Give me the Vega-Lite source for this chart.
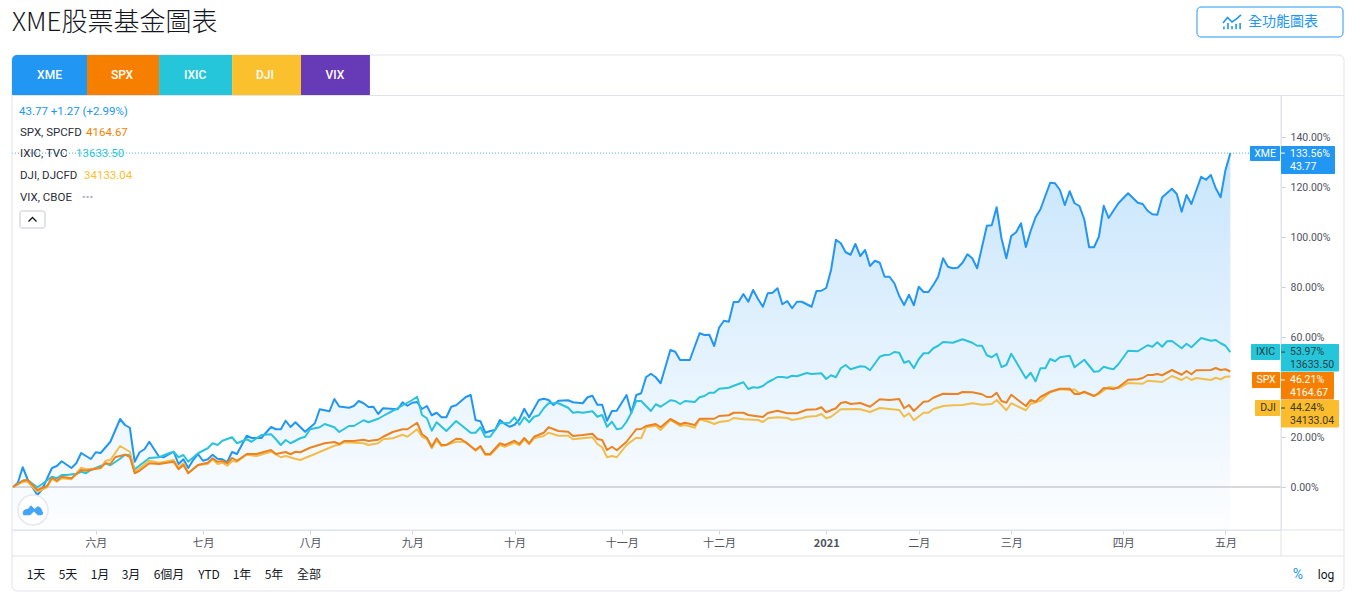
{"$schema":"https://vega.github.io/schema/vega-lite/v6.json","width":1269,"height":434,"autosize":{"type":"none"},"padding":{"left":12,"top":96,"right":77,"bottom":72},"background":"#ffffff",
"title":{"text":"XME股票基金圖表","anchor":"start","frame":"group","fontSize":26,"fontWeight":300,"font":"Noto Sans CJK TC","color":"#131722","offset":-29},
"config":{"view":{"stroke":null},"font":"Roboto"},
"data":{"values":[{}]},
"datasets":{"prices":[
{"series":"XME","day":0,"pct":0},{"series":"XME","day":1,"pct":1.7},{"series":"XME","day":2,"pct":7.9},{"series":"XME","day":3,"pct":3.1},{"series":"XME","day":5,"pct":-3.2},{"series":"XME","day":6,"pct":-0.9},{"series":"XME","day":8,"pct":7.6},{"series":"XME","day":9,"pct":8.4},{"series":"XME","day":10,"pct":10.3},{"series":"XME","day":12,"pct":7.6},{"series":"XME","day":13,"pct":9.5},{"series":"XME","day":14,"pct":13.6},{"series":"XME","day":16,"pct":11.2},{"series":"XME","day":17,"pct":13.9},{"series":"XME","day":18,"pct":13.6},{"series":"XME","day":20,"pct":18.1},{"series":"XME","day":22,"pct":27.2},{"series":"XME","day":23,"pct":24.8},{"series":"XME","day":24,"pct":23.7},{"series":"XME","day":25,"pct":10.1},{"series":"XME","day":26,"pct":13.9},{"series":"XME","day":27,"pct":15.1},{"series":"XME","day":28,"pct":18.1},{"series":"XME","day":30,"pct":12.1},{"series":"XME","day":31,"pct":11.9},{"series":"XME","day":33,"pct":14.1},{"series":"XME","day":34,"pct":9.2},{"series":"XME","day":35,"pct":11.1},{"series":"XME","day":36,"pct":7.6},{"series":"XME","day":37,"pct":10.8},{"series":"XME","day":38,"pct":13.2},{"series":"XME","day":39,"pct":10.5},{"series":"XME","day":40,"pct":11.1},{"series":"XME","day":41,"pct":12.9},{"series":"XME","day":42,"pct":11.3},{"series":"XME","day":43,"pct":11.1},{"series":"XME","day":44,"pct":10},{"series":"XME","day":45,"pct":14},{"series":"XME","day":46,"pct":13.2},{"series":"XME","day":48,"pct":20.5},{"series":"XME","day":49,"pct":19.6},{"series":"XME","day":51,"pct":19.6},{"series":"XME","day":53,"pct":24},{"series":"XME","day":54,"pct":23.1},{"series":"XME","day":55,"pct":23.1},{"series":"XME","day":56,"pct":26.5},{"series":"XME","day":57,"pct":24},{"series":"XME","day":58,"pct":25.9},{"series":"XME","day":60,"pct":22.1},{"series":"XME","day":62,"pct":25.5},{"series":"XME","day":63,"pct":31.1},{"series":"XME","day":65,"pct":30.3},{"series":"XME","day":66,"pct":35.2},{"series":"XME","day":67,"pct":32.2},{"series":"XME","day":69,"pct":31.7},{"series":"XME","day":70,"pct":32.4},{"series":"XME","day":71,"pct":34.4},{"series":"XME","day":72,"pct":33.5},{"series":"XME","day":73,"pct":32},{"series":"XME","day":74,"pct":32.1},{"series":"XME","day":75,"pct":29.2},{"series":"XME","day":76,"pct":31.5},{"series":"XME","day":79,"pct":31.1},{"series":"XME","day":80,"pct":33.9},{"series":"XME","day":81,"pct":32.5},{"series":"XME","day":82,"pct":33.7},{"series":"XME","day":83,"pct":34},{"series":"XME","day":84,"pct":31.2},{"series":"XME","day":85,"pct":32.4},{"series":"XME","day":86,"pct":28.7},{"series":"XME","day":87,"pct":29.7},{"series":"XME","day":88,"pct":27.9},{"series":"XME","day":89,"pct":27.9},{"series":"XME","day":90,"pct":32.1},{"series":"XME","day":91,"pct":32.7},{"series":"XME","day":93,"pct":36},{"series":"XME","day":94,"pct":36.8},{"series":"XME","day":95,"pct":26.8},{"series":"XME","day":96,"pct":26.3},{"series":"XME","day":97,"pct":21.7},{"series":"XME","day":98,"pct":22.4},{"series":"XME","day":99,"pct":22.8},{"series":"XME","day":100,"pct":26.8},{"series":"XME","day":101,"pct":25.2},{"series":"XME","day":102,"pct":24.1},{"series":"XME","day":103,"pct":24.9},{"series":"XME","day":104,"pct":27.1},{"series":"XME","day":105,"pct":31.3},{"series":"XME","day":106,"pct":27.9},{"series":"XME","day":108,"pct":34.8},{"series":"XME","day":109,"pct":35.3},{"series":"XME","day":110,"pct":34.8},{"series":"XME","day":111,"pct":32.8},{"series":"XME","day":112,"pct":34.5},{"series":"XME","day":114,"pct":34.7},{"series":"XME","day":115,"pct":33.9},{"series":"XME","day":117,"pct":33.5},{"series":"XME","day":118,"pct":35.9},{"series":"XME","day":119,"pct":36.5},{"series":"XME","day":120,"pct":32.9},{"series":"XME","day":121,"pct":32.9},{"series":"XME","day":122,"pct":26.5},{"series":"XME","day":123,"pct":30.4},{"series":"XME","day":124,"pct":30.5},{"series":"XME","day":126,"pct":36.8},{"series":"XME","day":127,"pct":29.7},{"series":"XME","day":128,"pct":36.8},{"series":"XME","day":129,"pct":37.5},{"series":"XME","day":130,"pct":43.9},{"series":"XME","day":131,"pct":45.3},{"series":"XME","day":132,"pct":43.9},{"series":"XME","day":133,"pct":41.5},{"series":"XME","day":135,"pct":54.8},{"series":"XME","day":136,"pct":54.1},{"series":"XME","day":137,"pct":50.8},{"series":"XME","day":139,"pct":50.8},{"series":"XME","day":141,"pct":61.5},{"series":"XME","day":142,"pct":60.8},{"series":"XME","day":143,"pct":60.9},{"series":"XME","day":144,"pct":56.4},{"series":"XME","day":145,"pct":63.7},{"series":"XME","day":146,"pct":66.5},{"series":"XME","day":147,"pct":66.1},{"series":"XME","day":148,"pct":74},{"series":"XME","day":149,"pct":74},{"series":"XME","day":150,"pct":77.2},{"series":"XME","day":151,"pct":74.1},{"series":"XME","day":152,"pct":78.8},{"series":"XME","day":153,"pct":75.2},{"series":"XME","day":154,"pct":72.1},{"series":"XME","day":155,"pct":77.5},{"series":"XME","day":156,"pct":77.7},{"series":"XME","day":157,"pct":79.5},{"series":"XME","day":158,"pct":73.1},{"series":"XME","day":159,"pct":74.4},{"series":"XME","day":160,"pct":71.5},{"series":"XME","day":161,"pct":74.1},{"series":"XME","day":162,"pct":74.1},{"series":"XME","day":164,"pct":72.1},{"series":"XME","day":165,"pct":78.4},{"series":"XME","day":166,"pct":78.5},{"series":"XME","day":167,"pct":79.6},{"series":"XME","day":168,"pct":86.8},{"series":"XME","day":169,"pct":98.9},{"series":"XME","day":170,"pct":97.5},{"series":"XME","day":171,"pct":93.9},{"series":"XME","day":172,"pct":92.9},{"series":"XME","day":173,"pct":97.2},{"series":"XME","day":174,"pct":92.4},{"series":"XME","day":175,"pct":94.8},{"series":"XME","day":176,"pct":88.4},{"series":"XME","day":177,"pct":90.5},{"series":"XME","day":178,"pct":89.7},{"series":"XME","day":179,"pct":84.1},{"series":"XME","day":180,"pct":84.1},{"series":"XME","day":181,"pct":81.5},{"series":"XME","day":182,"pct":76.4},{"series":"XME","day":183,"pct":72.8},{"series":"XME","day":184,"pct":76.9},{"series":"XME","day":185,"pct":72.7},{"series":"XME","day":186,"pct":80.1},{"series":"XME","day":187,"pct":78},{"series":"XME","day":188,"pct":78},{"series":"XME","day":189,"pct":80.8},{"series":"XME","day":190,"pct":84.1},{"series":"XME","day":191,"pct":91.5},{"series":"XME","day":192,"pct":88.1},{"series":"XME","day":193,"pct":87.5},{"series":"XME","day":194,"pct":87.7},{"series":"XME","day":195,"pct":89.7},{"series":"XME","day":196,"pct":93.1},{"series":"XME","day":197,"pct":91.5},{"series":"XME","day":198,"pct":87.5},{"series":"XME","day":200,"pct":104.5},{"series":"XME","day":201,"pct":104.7},{"series":"XME","day":202,"pct":111.9},{"series":"XME","day":203,"pct":99.5},{"series":"XME","day":204,"pct":91.5},{"series":"XME","day":205,"pct":100.4},{"series":"XME","day":206,"pct":101.9},{"series":"XME","day":207,"pct":105.5},{"series":"XME","day":208,"pct":96},{"series":"XME","day":209,"pct":102.5},{"series":"XME","day":210,"pct":107.9},{"series":"XME","day":211,"pct":111.1},{"series":"XME","day":213,"pct":121.7},{"series":"XME","day":214,"pct":121.5},{"series":"XME","day":215,"pct":118.8},{"series":"XME","day":216,"pct":112.8},{"series":"XME","day":217,"pct":118.3},{"series":"XME","day":218,"pct":113.5},{"series":"XME","day":219,"pct":112.4},{"series":"XME","day":220,"pct":107.1},{"series":"XME","day":221,"pct":95.9},{"series":"XME","day":222,"pct":95.9},{"series":"XME","day":223,"pct":100.1},{"series":"XME","day":224,"pct":112.5},{"series":"XME","day":225,"pct":107.6},{"series":"XME","day":227,"pct":113.5},{"series":"XME","day":229,"pct":117.5},{"series":"XME","day":231,"pct":113.7},{"series":"XME","day":232,"pct":113.2},{"series":"XME","day":233,"pct":110.5},{"series":"XME","day":234,"pct":109.1},{"series":"XME","day":235,"pct":108.9},{"series":"XME","day":236,"pct":115.9},{"series":"XME","day":238,"pct":119.3},{"series":"XME","day":239,"pct":117.2},{"series":"XME","day":240,"pct":110.1},{"series":"XME","day":241,"pct":116.8},{"series":"XME","day":242,"pct":113.2},{"series":"XME","day":244,"pct":124.1},{"series":"XME","day":245,"pct":122.9},{"series":"XME","day":246,"pct":124.8},{"series":"XME","day":247,"pct":119.5},{"series":"XME","day":248,"pct":115.9},{"series":"XME","day":249,"pct":126.8},{"series":"XME","day":250,"pct":133.56},
{"series":"IXIC","day":0,"pct":0},{"series":"IXIC","day":2,"pct":2.5},{"series":"IXIC","day":3,"pct":2.8},{"series":"IXIC","day":5,"pct":-0.1},{"series":"IXIC","day":6,"pct":1.2},{"series":"IXIC","day":8,"pct":4.1},{"series":"IXIC","day":9,"pct":3.5},{"series":"IXIC","day":10,"pct":4.8},{"series":"IXIC","day":11,"pct":4.8},{"series":"IXIC","day":13,"pct":5.3},{"series":"IXIC","day":14,"pct":6.1},{"series":"IXIC","day":15,"pct":5.5},{"series":"IXIC","day":16,"pct":6.8},{"series":"IXIC","day":18,"pct":8.4},{"series":"IXIC","day":19,"pct":9.5},{"series":"IXIC","day":20,"pct":8.7},{"series":"IXIC","day":22,"pct":11.3},{"series":"IXIC","day":23,"pct":12.9},{"series":"IXIC","day":24,"pct":12.7},{"series":"IXIC","day":25,"pct":7.1},{"series":"IXIC","day":28,"pct":11.6},{"series":"IXIC","day":30,"pct":11.9},{"series":"IXIC","day":32,"pct":13.5},{"series":"IXIC","day":33,"pct":14.1},{"series":"IXIC","day":34,"pct":11.9},{"series":"IXIC","day":35,"pct":12.8},{"series":"IXIC","day":36,"pct":10.1},{"series":"IXIC","day":38,"pct":13.5},{"series":"IXIC","day":40,"pct":15.5},{"series":"IXIC","day":41,"pct":17.5},{"series":"IXIC","day":42,"pct":16.8},{"series":"IXIC","day":43,"pct":18.5},{"series":"IXIC","day":45,"pct":19.9},{"series":"IXIC","day":46,"pct":17.5},{"series":"IXIC","day":48,"pct":19.1},{"series":"IXIC","day":49,"pct":18.1},{"series":"IXIC","day":51,"pct":20.8},{"series":"IXIC","day":53,"pct":21.1},{"series":"IXIC","day":54,"pct":19.1},{"series":"IXIC","day":55,"pct":16.8},{"series":"IXIC","day":56,"pct":18.8},{"series":"IXIC","day":57,"pct":17.5},{"series":"IXIC","day":59,"pct":19.5},{"series":"IXIC","day":60,"pct":20.1},{"series":"IXIC","day":61,"pct":23.1},{"series":"IXIC","day":63,"pct":23.9},{"series":"IXIC","day":64,"pct":25.2},{"series":"IXIC","day":66,"pct":23.9},{"series":"IXIC","day":67,"pct":22},{"series":"IXIC","day":69,"pct":24.4},{"series":"IXIC","day":70,"pct":24.4},{"series":"IXIC","day":72,"pct":26.7},{"series":"IXIC","day":73,"pct":25.9},{"series":"IXIC","day":75,"pct":27.3},{"series":"IXIC","day":76,"pct":28.4},{"series":"IXIC","day":78,"pct":30.5},{"series":"IXIC","day":79,"pct":31.5},{"series":"IXIC","day":82,"pct":34.8},{"series":"IXIC","day":83,"pct":36.1},{"series":"IXIC","day":84,"pct":28.8},{"series":"IXIC","day":85,"pct":27.5},{"series":"IXIC","day":86,"pct":22.5},{"series":"IXIC","day":87,"pct":25.9},{"series":"IXIC","day":89,"pct":22.4},{"series":"IXIC","day":91,"pct":26.4},{"series":"IXIC","day":94,"pct":21.7},{"series":"IXIC","day":95,"pct":21.7},{"series":"IXIC","day":96,"pct":23.9},{"series":"IXIC","day":97,"pct":20.1},{"series":"IXIC","day":98,"pct":20.1},{"series":"IXIC","day":100,"pct":25.5},{"series":"IXIC","day":102,"pct":25.7},{"series":"IXIC","day":103,"pct":27.9},{"series":"IXIC","day":104,"pct":24.9},{"series":"IXIC","day":105,"pct":27.9},{"series":"IXIC","day":106,"pct":25.9},{"series":"IXIC","day":107,"pct":28.1},{"series":"IXIC","day":108,"pct":28.7},{"series":"IXIC","day":109,"pct":31.5},{"series":"IXIC","day":110,"pct":33.5},{"series":"IXIC","day":112,"pct":33.5},{"series":"IXIC","day":114,"pct":31.7},{"series":"IXIC","day":115,"pct":29.7},{"series":"IXIC","day":116,"pct":30},{"series":"IXIC","day":117,"pct":29.7},{"series":"IXIC","day":119,"pct":30.3},{"series":"IXIC","day":120,"pct":28.1},{"series":"IXIC","day":121,"pct":28.8},{"series":"IXIC","day":122,"pct":24.1},{"series":"IXIC","day":123,"pct":26.1},{"series":"IXIC","day":124,"pct":23.1},{"series":"IXIC","day":125,"pct":23.5},{"series":"IXIC","day":126,"pct":26.1},{"series":"IXIC","day":127,"pct":29.7},{"series":"IXIC","day":128,"pct":34.4},{"series":"IXIC","day":129,"pct":34.4},{"series":"IXIC","day":131,"pct":30.4},{"series":"IXIC","day":132,"pct":33.1},{"series":"IXIC","day":133,"pct":32.1},{"series":"IXIC","day":135,"pct":34.7},{"series":"IXIC","day":136,"pct":34.4},{"series":"IXIC","day":137,"pct":33.2},{"series":"IXIC","day":138,"pct":34.4},{"series":"IXIC","day":140,"pct":34},{"series":"IXIC","day":141,"pct":35.9},{"series":"IXIC","day":142,"pct":36.4},{"series":"IXIC","day":143,"pct":37.7},{"series":"IXIC","day":144,"pct":37.7},{"series":"IXIC","day":145,"pct":39.3},{"series":"IXIC","day":147,"pct":39.7},{"series":"IXIC","day":148,"pct":40.5},{"series":"IXIC","day":150,"pct":41.9},{"series":"IXIC","day":151,"pct":39.2},{"series":"IXIC","day":152,"pct":39.9},{"series":"IXIC","day":153,"pct":39.7},{"series":"IXIC","day":154,"pct":40.4},{"series":"IXIC","day":155,"pct":41.9},{"series":"IXIC","day":156,"pct":42.9},{"series":"IXIC","day":157,"pct":44},{"series":"IXIC","day":158,"pct":44},{"series":"IXIC","day":159,"pct":43.7},{"series":"IXIC","day":160,"pct":44.5},{"series":"IXIC","day":161,"pct":44.3},{"series":"IXIC","day":163,"pct":45.6},{"series":"IXIC","day":164,"pct":45.2},{"series":"IXIC","day":166,"pct":45.5},{"series":"IXIC","day":167,"pct":43.2},{"series":"IXIC","day":168,"pct":44.7},{"series":"IXIC","day":169,"pct":43.9},{"series":"IXIC","day":170,"pct":47.5},{"series":"IXIC","day":171,"pct":48.8},{"series":"IXIC","day":172,"pct":47.1},{"series":"IXIC","day":174,"pct":48.3},{"series":"IXIC","day":175,"pct":48.1},{"series":"IXIC","day":176,"pct":46.7},{"series":"IXIC","day":178,"pct":52.1},{"series":"IXIC","day":179,"pct":52.8},{"series":"IXIC","day":180,"pct":52.9},{"series":"IXIC","day":181,"pct":54},{"series":"IXIC","day":182,"pct":53.7},{"series":"IXIC","day":183,"pct":49.7},{"series":"IXIC","day":184,"pct":50.4},{"series":"IXIC","day":185,"pct":47.5},{"series":"IXIC","day":186,"pct":51.1},{"series":"IXIC","day":187,"pct":53.5},{"series":"IXIC","day":188,"pct":53.5},{"series":"IXIC","day":189,"pct":55.5},{"series":"IXIC","day":190,"pct":56.5},{"series":"IXIC","day":191,"pct":58},{"series":"IXIC","day":193,"pct":57.7},{"series":"IXIC","day":195,"pct":59.1},{"series":"IXIC","day":197,"pct":57.7},{"series":"IXIC","day":198,"pct":56.5},{"series":"IXIC","day":199,"pct":56.5},{"series":"IXIC","day":200,"pct":52.7},{"series":"IXIC","day":201,"pct":51.9},{"series":"IXIC","day":202,"pct":53.3},{"series":"IXIC","day":203,"pct":48},{"series":"IXIC","day":204,"pct":48.8},{"series":"IXIC","day":205,"pct":53.3},{"series":"IXIC","day":206,"pct":50.1},{"series":"IXIC","day":208,"pct":43.5},{"series":"IXIC","day":209,"pct":45.7},{"series":"IXIC","day":210,"pct":42.3},{"series":"IXIC","day":211,"pct":47.5},{"series":"IXIC","day":212,"pct":47.5},{"series":"IXIC","day":213,"pct":51.2},{"series":"IXIC","day":214,"pct":50.3},{"series":"IXIC","day":215,"pct":51.9},{"series":"IXIC","day":217,"pct":52.5},{"series":"IXIC","day":218,"pct":47.9},{"series":"IXIC","day":220,"pct":50.9},{"series":"IXIC","day":222,"pct":46.1},{"series":"IXIC","day":223,"pct":46.3},{"series":"IXIC","day":224,"pct":48.1},{"series":"IXIC","day":225,"pct":47.5},{"series":"IXIC","day":226,"pct":47.1},{"series":"IXIC","day":227,"pct":49.1},{"series":"IXIC","day":229,"pct":54.5},{"series":"IXIC","day":231,"pct":54.3},{"series":"IXIC","day":232,"pct":55.5},{"series":"IXIC","day":233,"pct":56.7},{"series":"IXIC","day":234,"pct":56.1},{"series":"IXIC","day":235,"pct":57.9},{"series":"IXIC","day":236,"pct":56.1},{"series":"IXIC","day":237,"pct":58.3},{"series":"IXIC","day":238,"pct":58.4},{"series":"IXIC","day":240,"pct":55.5},{"series":"IXIC","day":241,"pct":57.3},{"series":"IXIC","day":242,"pct":55.9},{"series":"IXIC","day":244,"pct":59.6},{"series":"IXIC","day":246,"pct":58.5},{"series":"IXIC","day":247,"pct":58.8},{"series":"IXIC","day":248,"pct":57.5},{"series":"IXIC","day":249,"pct":56.5},{"series":"IXIC","day":250,"pct":53.97},
{"series":"DJI","day":0,"pct":0},{"series":"DJI","day":2,"pct":2.1},{"series":"DJI","day":3,"pct":2.1},{"series":"DJI","day":5,"pct":-1.9},{"series":"DJI","day":7,"pct":-0.1},{"series":"DJI","day":8,"pct":3.3},{"series":"DJI","day":9,"pct":2.1},{"series":"DJI","day":10,"pct":3.5},{"series":"DJI","day":12,"pct":3.1},{"series":"DJI","day":14,"pct":7.7},{"series":"DJI","day":15,"pct":7.1},{"series":"DJI","day":18,"pct":7.5},{"series":"DJI","day":19,"pct":10.5},{"series":"DJI","day":20,"pct":10.8},{"series":"DJI","day":22,"pct":16.4},{"series":"DJI","day":24,"pct":14.1},{"series":"DJI","day":25,"pct":6.1},{"series":"DJI","day":26,"pct":7.5},{"series":"DJI","day":28,"pct":10.5},{"series":"DJI","day":30,"pct":9.7},{"series":"DJI","day":33,"pct":10.8},{"series":"DJI","day":34,"pct":7.9},{"series":"DJI","day":35,"pct":9.5},{"series":"DJI","day":36,"pct":5.7},{"series":"DJI","day":38,"pct":8.8},{"series":"DJI","day":40,"pct":9.2},{"series":"DJI","day":41,"pct":11.1},{"series":"DJI","day":42,"pct":9.2},{"series":"DJI","day":43,"pct":9.7},{"series":"DJI","day":44,"pct":8.5},{"series":"DJI","day":45,"pct":10.4},{"series":"DJI","day":46,"pct":10.1},{"series":"DJI","day":48,"pct":12.9},{"series":"DJI","day":50,"pct":12.4},{"series":"DJI","day":53,"pct":14.1},{"series":"DJI","day":55,"pct":11.9},{"series":"DJI","day":56,"pct":12.4},{"series":"DJI","day":58,"pct":11.3},{"series":"DJI","day":59,"pct":10.8},{"series":"DJI","day":62,"pct":13.2},{"series":"DJI","day":66,"pct":16.5},{"series":"DJI","day":67,"pct":16.9},{"series":"DJI","day":68,"pct":17.9},{"series":"DJI","day":70,"pct":17.7},{"series":"DJI","day":72,"pct":17.5},{"series":"DJI","day":73,"pct":16.8},{"series":"DJI","day":75,"pct":17.5},{"series":"DJI","day":76,"pct":19.1},{"series":"DJI","day":78,"pct":19.5},{"series":"DJI","day":80,"pct":20.9},{"series":"DJI","day":81,"pct":20.1},{"series":"DJI","day":83,"pct":23.1},{"series":"DJI","day":84,"pct":20.1},{"series":"DJI","day":85,"pct":19.2},{"series":"DJI","day":86,"pct":15.5},{"series":"DJI","day":87,"pct":18.8},{"series":"DJI","day":88,"pct":16.4},{"series":"DJI","day":89,"pct":16.8},{"series":"DJI","day":91,"pct":18.1},{"series":"DJI","day":93,"pct":18.1},{"series":"DJI","day":95,"pct":14.5},{"series":"DJI","day":96,"pct":16.1},{"series":"DJI","day":97,"pct":12.8},{"series":"DJI","day":98,"pct":12.8},{"series":"DJI","day":100,"pct":16.8},{"series":"DJI","day":101,"pct":16.1},{"series":"DJI","day":103,"pct":17.7},{"series":"DJI","day":104,"pct":16.7},{"series":"DJI","day":105,"pct":19.1},{"series":"DJI","day":106,"pct":17.1},{"series":"DJI","day":107,"pct":19.5},{"series":"DJI","day":109,"pct":20.4},{"series":"DJI","day":110,"pct":21.7},{"series":"DJI","day":112,"pct":20.5},{"series":"DJI","day":114,"pct":20.5},{"series":"DJI","day":115,"pct":19.1},{"series":"DJI","day":117,"pct":19.5},{"series":"DJI","day":119,"pct":19.9},{"series":"DJI","day":120,"pct":17.2},{"series":"DJI","day":121,"pct":15.9},{"series":"DJI","day":122,"pct":11.9},{"series":"DJI","day":123,"pct":12.4},{"series":"DJI","day":124,"pct":11.9},{"series":"DJI","day":126,"pct":16.8},{"series":"DJI","day":128,"pct":19.7},{"series":"DJI","day":129,"pct":19.5},{"series":"DJI","day":130,"pct":23.9},{"series":"DJI","day":132,"pct":24.5},{"series":"DJI","day":133,"pct":22.8},{"series":"DJI","day":135,"pct":26.8},{"series":"DJI","day":137,"pct":24.4},{"series":"DJI","day":138,"pct":24.8},{"series":"DJI","day":140,"pct":23.7},{"series":"DJI","day":141,"pct":27.1},{"series":"DJI","day":143,"pct":26},{"series":"DJI","day":144,"pct":25.2},{"series":"DJI","day":145,"pct":26},{"series":"DJI","day":147,"pct":26.5},{"series":"DJI","day":148,"pct":27.6},{"series":"DJI","day":150,"pct":27.1},{"series":"DJI","day":153,"pct":26.8},{"series":"DJI","day":154,"pct":26},{"series":"DJI","day":155,"pct":27.5},{"series":"DJI","day":157,"pct":27.9},{"series":"DJI","day":159,"pct":27.6},{"series":"DJI","day":160,"pct":26.8},{"series":"DJI","day":162,"pct":27.5},{"series":"DJI","day":163,"pct":28.1},{"series":"DJI","day":165,"pct":28.4},{"series":"DJI","day":166,"pct":29.2},{"series":"DJI","day":167,"pct":27.5},{"series":"DJI","day":168,"pct":28.1},{"series":"DJI","day":170,"pct":31.1},{"series":"DJI","day":173,"pct":31.2},{"series":"DJI","day":174,"pct":31.1},{"series":"DJI","day":176,"pct":30},{"series":"DJI","day":178,"pct":31.6},{"series":"DJI","day":182,"pct":30.8},{"series":"DJI","day":183,"pct":28.1},{"series":"DJI","day":184,"pct":29.5},{"series":"DJI","day":185,"pct":26.7},{"series":"DJI","day":187,"pct":29.7},{"series":"DJI","day":188,"pct":29.7},{"series":"DJI","day":189,"pct":31.2},{"series":"DJI","day":191,"pct":32.4},{"series":"DJI","day":193,"pct":32.7},{"series":"DJI","day":195,"pct":32.8},{"series":"DJI","day":197,"pct":33.5},{"series":"DJI","day":199,"pct":32.9},{"series":"DJI","day":201,"pct":33.2},{"series":"DJI","day":202,"pct":34.8},{"series":"DJI","day":204,"pct":30.7},{"series":"DJI","day":205,"pct":33.5},{"series":"DJI","day":208,"pct":30.7},{"series":"DJI","day":209,"pct":33.2},{"series":"DJI","day":211,"pct":34.5},{"series":"DJI","day":213,"pct":37.9},{"series":"DJI","day":215,"pct":39.1},{"series":"DJI","day":217,"pct":38.8},{"series":"DJI","day":218,"pct":39},{"series":"DJI","day":219,"pct":37.5},{"series":"DJI","day":220,"pct":37.9},{"series":"DJI","day":222,"pct":36.4},{"series":"DJI","day":223,"pct":37.2},{"series":"DJI","day":225,"pct":40},{"series":"DJI","day":227,"pct":39.5},{"series":"DJI","day":229,"pct":41.6},{"series":"DJI","day":232,"pct":41.3},{"series":"DJI","day":233,"pct":42.5},{"series":"DJI","day":236,"pct":42},{"series":"DJI","day":238,"pct":44.4},{"series":"DJI","day":240,"pct":42.8},{"series":"DJI","day":241,"pct":44},{"series":"DJI","day":242,"pct":42.8},{"series":"DJI","day":243,"pct":43.6},{"series":"DJI","day":246,"pct":42.8},{"series":"DJI","day":247,"pct":43.7},{"series":"DJI","day":248,"pct":43.1},{"series":"DJI","day":249,"pct":44.1},{"series":"DJI","day":250,"pct":44.24},
{"series":"SPX","day":0,"pct":0},{"series":"SPX","day":2,"pct":2.5},{"series":"SPX","day":3,"pct":2.8},{"series":"SPX","day":5,"pct":-1.2},{"series":"SPX","day":7,"pct":0.4},{"series":"SPX","day":8,"pct":3.7},{"series":"SPX","day":9,"pct":2.5},{"series":"SPX","day":10,"pct":4.1},{"series":"SPX","day":12,"pct":3.5},{"series":"SPX","day":14,"pct":6.8},{"series":"SPX","day":15,"pct":6.5},{"series":"SPX","day":18,"pct":7.7},{"series":"SPX","day":19,"pct":9.5},{"series":"SPX","day":20,"pct":9.2},{"series":"SPX","day":21,"pct":11.9},{"series":"SPX","day":23,"pct":12.9},{"series":"SPX","day":24,"pct":12.1},{"series":"SPX","day":25,"pct":5.5},{"series":"SPX","day":26,"pct":6.5},{"series":"SPX","day":28,"pct":9.5},{"series":"SPX","day":30,"pct":9.2},{"series":"SPX","day":33,"pct":10.1},{"series":"SPX","day":34,"pct":7.1},{"series":"SPX","day":35,"pct":8.8},{"series":"SPX","day":36,"pct":5.5},{"series":"SPX","day":38,"pct":8.8},{"series":"SPX","day":40,"pct":9.7},{"series":"SPX","day":41,"pct":11.5},{"series":"SPX","day":42,"pct":10.1},{"series":"SPX","day":43,"pct":10.4},{"series":"SPX","day":44,"pct":9.5},{"series":"SPX","day":45,"pct":11.6},{"series":"SPX","day":46,"pct":10.5},{"series":"SPX","day":48,"pct":13.2},{"series":"SPX","day":50,"pct":13.2},{"series":"SPX","day":53,"pct":14.8},{"series":"SPX","day":54,"pct":13.2},{"series":"SPX","day":56,"pct":14},{"series":"SPX","day":57,"pct":13.1},{"series":"SPX","day":58,"pct":14.1},{"series":"SPX","day":59,"pct":13.9},{"series":"SPX","day":61,"pct":15.7},{"series":"SPX","day":64,"pct":17.5},{"series":"SPX","day":66,"pct":18},{"series":"SPX","day":67,"pct":17.2},{"series":"SPX","day":68,"pct":18.4},{"series":"SPX","day":70,"pct":18.4},{"series":"SPX","day":72,"pct":18.9},{"series":"SPX","day":73,"pct":18.4},{"series":"SPX","day":75,"pct":18.9},{"series":"SPX","day":76,"pct":20.1},{"series":"SPX","day":78,"pct":22},{"series":"SPX","day":80,"pct":23.1},{"series":"SPX","day":81,"pct":23.1},{"series":"SPX","day":83,"pct":25.7},{"series":"SPX","day":84,"pct":21.1},{"series":"SPX","day":85,"pct":19.7},{"series":"SPX","day":86,"pct":16.1},{"series":"SPX","day":87,"pct":19.5},{"series":"SPX","day":88,"pct":16.8},{"series":"SPX","day":89,"pct":16.8},{"series":"SPX","day":91,"pct":19.3},{"series":"SPX","day":92,"pct":19.2},{"series":"SPX","day":95,"pct":14.8},{"series":"SPX","day":96,"pct":16.4},{"series":"SPX","day":97,"pct":13.2},{"series":"SPX","day":98,"pct":13.2},{"series":"SPX","day":100,"pct":17.5},{"series":"SPX","day":101,"pct":16.8},{"series":"SPX","day":103,"pct":18.5},{"series":"SPX","day":104,"pct":17.2},{"series":"SPX","day":105,"pct":19.6},{"series":"SPX","day":106,"pct":17.5},{"series":"SPX","day":107,"pct":20.1},{"series":"SPX","day":109,"pct":21.7},{"series":"SPX","day":110,"pct":23.9},{"series":"SPX","day":112,"pct":22.4},{"series":"SPX","day":114,"pct":22.1},{"series":"SPX","day":115,"pct":20.4},{"series":"SPX","day":117,"pct":20.8},{"series":"SPX","day":119,"pct":21.3},{"series":"SPX","day":120,"pct":19.2},{"series":"SPX","day":121,"pct":18.8},{"series":"SPX","day":122,"pct":14.8},{"series":"SPX","day":123,"pct":16.1},{"series":"SPX","day":124,"pct":14.7},{"series":"SPX","day":126,"pct":18.1},{"series":"SPX","day":128,"pct":23.1},{"series":"SPX","day":129,"pct":23.2},{"series":"SPX","day":130,"pct":24.4},{"series":"SPX","day":132,"pct":25.2},{"series":"SPX","day":133,"pct":23.9},{"series":"SPX","day":135,"pct":27.2},{"series":"SPX","day":137,"pct":25.1},{"series":"SPX","day":138,"pct":25.7},{"series":"SPX","day":140,"pct":24.8},{"series":"SPX","day":141,"pct":27.3},{"series":"SPX","day":144,"pct":27.3},{"series":"SPX","day":145,"pct":28.4},{"series":"SPX","day":147,"pct":28.7},{"series":"SPX","day":148,"pct":29.7},{"series":"SPX","day":150,"pct":29.7},{"series":"SPX","day":151,"pct":28.8},{"series":"SPX","day":154,"pct":28},{"series":"SPX","day":155,"pct":29.6},{"series":"SPX","day":157,"pct":30.5},{"series":"SPX","day":159,"pct":29.5},{"series":"SPX","day":161,"pct":29.5},{"series":"SPX","day":163,"pct":30.9},{"series":"SPX","day":165,"pct":31.1},{"series":"SPX","day":166,"pct":31.9},{"series":"SPX","day":167,"pct":29.9},{"series":"SPX","day":169,"pct":31.5},{"series":"SPX","day":170,"pct":33.6},{"series":"SPX","day":171,"pct":34},{"series":"SPX","day":172,"pct":33.2},{"series":"SPX","day":174,"pct":33.6},{"series":"SPX","day":176,"pct":32.1},{"series":"SPX","day":178,"pct":35.1},{"series":"SPX","day":180,"pct":34.8},{"series":"SPX","day":182,"pct":35.2},{"series":"SPX","day":183,"pct":31.5},{"series":"SPX","day":184,"pct":32.8},{"series":"SPX","day":185,"pct":30.4},{"series":"SPX","day":187,"pct":34.1},{"series":"SPX","day":188,"pct":34.3},{"series":"SPX","day":189,"pct":35.7},{"series":"SPX","day":191,"pct":37.3},{"series":"SPX","day":194,"pct":37.2},{"series":"SPX","day":195,"pct":38},{"series":"SPX","day":197,"pct":37.9},{"series":"SPX","day":199,"pct":37.1},{"series":"SPX","day":200,"pct":36},{"series":"SPX","day":201,"pct":36.1},{"series":"SPX","day":202,"pct":37.7},{"series":"SPX","day":203,"pct":34.4},{"series":"SPX","day":204,"pct":33.7},{"series":"SPX","day":205,"pct":36.9},{"series":"SPX","day":208,"pct":32.4},{"series":"SPX","day":209,"pct":34.8},{"series":"SPX","day":210,"pct":34.1},{"series":"SPX","day":211,"pct":36},{"series":"SPX","day":213,"pct":38.1},{"series":"SPX","day":215,"pct":39.3},{"series":"SPX","day":217,"pct":39.3},{"series":"SPX","day":218,"pct":37.2},{"series":"SPX","day":219,"pct":37.2},{"series":"SPX","day":220,"pct":38.1},{"series":"SPX","day":222,"pct":36.4},{"series":"SPX","day":223,"pct":37.7},{"series":"SPX","day":224,"pct":39.6},{"series":"SPX","day":226,"pct":39.2},{"series":"SPX","day":227,"pct":39.9},{"series":"SPX","day":229,"pct":42.9},{"series":"SPX","day":231,"pct":43.1},{"series":"SPX","day":232,"pct":43.6},{"series":"SPX","day":233,"pct":44.8},{"series":"SPX","day":234,"pct":44.8},{"series":"SPX","day":235,"pct":45.2},{"series":"SPX","day":236,"pct":44.7},{"series":"SPX","day":238,"pct":46.8},{"series":"SPX","day":240,"pct":44.9},{"series":"SPX","day":241,"pct":46.4},{"series":"SPX","day":242,"pct":45.1},{"series":"SPX","day":243,"pct":46.7},{"series":"SPX","day":246,"pct":46.8},{"series":"SPX","day":247,"pct":47.6},{"series":"SPX","day":248,"pct":46.8},{"series":"SPX","day":249,"pct":47.1},{"series":"SPX","day":250,"pct":46.21}
]},
"layer":[
{"data":{"name":"prices"},"transform":[{"filter":"datum.series==='XME'"}],"mark":{"type":"area","color":{"x1":0,"y1":0,"x2":0,"y2":1,"gradient":"linear","stops":[{"offset":0,"color":"#c8e5fc"},{"offset":1,"color":"#fdfeff"}]}},
"encoding":{"x":{"field":"day","type":"quantitative","title":null,"scale":{"domain":[-0.2,260.4],"nice":false,"zero":false},"axis":{"values":[17,39,61,82,103,125,145,167,186,205,228,249],"labelExpr":"{17:'六月',39:'七月',61:'八月',82:'九月',103:'十月',125:'十一月',145:'十二月',167:'2021',186:'二月',205:'三月',228:'四月',249:'五月'}[datum.value]","labelFont":"Noto Sans CJK TC","labelFontSize":11,"labelColor":"#50535e","labelFontWeight":{"expr":"datum.value==167?'bold':'normal'"},"labelPadding":3,"tickSize":4,"tickColor":"#d1d4dc","domainColor":"#e0e3eb","grid":false,"labelOverlap":false,"labelFlush":false}},
"y":{"field":"pct","type":"quantitative","title":null,"scale":{"domain":[-17.2,156.4],"nice":false,"zero":false},"axis":{"orient":"right","values":[0,20,40,60,80,100,120,140],"labelExpr":"format(datum.value,'.2f')+'%'","labelFontSize":10.5,"labelColor":"#50535e","labelPadding":5,"tickSize":4,"tickColor":"#c8cbd3","domainColor":"#e0e3eb","grid":false,"labelOverlap":false,"labelFlush":false}},
"y2":{"datum":-17.2}}},
{"mark":{"type":"rule","color":"#b2b5be","strokeWidth":1},"encoding":{"y":{"datum":0}}},
{"mark":{"type":"rule","color":"#2196f3","strokeWidth":1,"strokeDash":[1,2],"opacity":0.8},"encoding":{"y":{"datum":133.56},"x":{"datum":-0.2},"x2":{"datum":254}}},
{"data":{"name":"prices"},"mark":{"type":"line","strokeWidth":2,"strokeJoin":"round"},"encoding":{"x":{"field":"day","type":"quantitative"},"y":{"field":"pct","type":"quantitative"},"color":{"field":"series","type":"nominal","legend":null,"scale":{"domain":["XME","IXIC","DJI","SPX"],"range":["#2196f3","#2bc2dc","#f2bd4a","#ec8320"]},"sort":["XME","IXIC","DJI","SPX"]},"detail":{"field":"series"}}},
{"mark":{"type":"rect","fill":"transparent","stroke":"#e0e3eb","cornerRadius":5},"encoding":{"x":{"datum":-0.2},"x2":{"datum":273.34},"y":{"datum":172.8},"y2":{"datum":-41.6}}},
{"mark":{"type":"rule","color":"#e0e3eb"},"encoding":{"x":{"datum":-0.2},"x2":{"datum":273.34},"y":{"datum":156.6}}},
{"mark":{"type":"rule","color":"#e0e3eb"},"encoding":{"x":{"datum":-0.2},"x2":{"datum":273.34},"y":{"datum":-17.2}}},
{"mark":{"type":"rule","color":"#e0e3eb"},"encoding":{"x":{"datum":-0.2},"x2":{"datum":273.34},"y":{"datum":-27.6}}},
{"mark":{"type":"rule","color":"#e0e3eb"},"encoding":{"x":{"datum":260.4},"y":{"datum":156.6},"y2":{"datum":-27.6}}},
{"mark":{"type":"rect","color":"#2196f3","cornerRadiusTopLeft":5},"encoding":{"x":{"datum":-0.2},"x2":{"datum":15.2},"y":{"datum":172.8},"y2":{"datum":156.8}}},
{"mark":{"type":"rect","color":"#f77f00"},"encoding":{"x":{"datum":15.2},"x2":{"datum":30},"y":{"datum":172.8},"y2":{"datum":156.8}}},
{"mark":{"type":"rect","color":"#26c6da"},"encoding":{"x":{"datum":30},"x2":{"datum":45},"y":{"datum":172.8},"y2":{"datum":156.8}}},
{"mark":{"type":"rect","color":"#fbc02d"},"encoding":{"x":{"datum":45},"x2":{"datum":59.15},"y":{"datum":172.8},"y2":{"datum":156.8}}},
{"mark":{"type":"rect","color":"#673ab7"},"encoding":{"x":{"datum":59.15},"x2":{"datum":73.3},"y":{"datum":172.8},"y2":{"datum":156.8}}},
{"mark":{"type":"text","text":"XME","color":"#ffffff","fontSize":12,"fontWeight":500},"encoding":{"x":{"datum":7.5},"y":{"datum":164.8}}},
{"mark":{"type":"text","text":"SPX","color":"#ffffff","fontSize":12,"fontWeight":500},"encoding":{"x":{"datum":22.4},"y":{"datum":164.8}}},
{"mark":{"type":"text","text":"IXIC","color":"#ffffff","fontSize":12,"fontWeight":500},"encoding":{"x":{"datum":37.4},"y":{"datum":164.8}}},
{"mark":{"type":"text","text":"DJI","color":"#ffffff","fontSize":12,"fontWeight":500},"encoding":{"x":{"datum":51.75},"y":{"datum":164.8}}},
{"mark":{"type":"text","text":"VIX","color":"#ffffff","fontSize":12,"fontWeight":500},"encoding":{"x":{"datum":66.1},"y":{"datum":164.8}}},
{"mark":{"type":"text","text":"43.77  +1.27 (+2.99%)","align":"left","color":"#2196f3","fontSize":11.5},"encoding":{"x":{"datum":1.24},"y":{"datum":150}}},
{"mark":{"type":"text","text":"SPX, SPCFD","align":"left","color":"#2a2e39","fontSize":11.5},"encoding":{"x":{"datum":1.44},"y":{"datum":141.6}}},
{"mark":{"type":"text","text":"4164.67","align":"left","color":"#f77f00","fontSize":11.5},"encoding":{"x":{"datum":15},"y":{"datum":141.6}}},
{"mark":{"type":"text","text":"IXIC, TVC","align":"left","color":"#2a2e39","fontSize":11.5},"encoding":{"x":{"datum":1.44},"y":{"datum":133.2}}},
{"mark":{"type":"text","text":"13633.50","align":"left","color":"#26c6da","fontSize":11.5},"encoding":{"x":{"datum":12.94},"y":{"datum":133.2}}},
{"mark":{"type":"text","text":"DJI, DJCFD","align":"left","color":"#2a2e39","fontSize":11.5},"encoding":{"x":{"datum":1.44},"y":{"datum":124.4}}},
{"mark":{"type":"text","text":"34133.04","align":"left","color":"#fbc02d","fontSize":11.5},"encoding":{"x":{"datum":14.59},"y":{"datum":124.4}}},
{"mark":{"type":"text","text":"VIX, CBOE","align":"left","color":"#2a2e39","fontSize":11.5},"encoding":{"x":{"datum":1.44},"y":{"datum":115.6}}},
{"mark":{"type":"text","text":"•••","align":"left","color":"#b2b5be","fontSize":11},"encoding":{"x":{"datum":14.18},"y":{"datum":115.6}}},
{"mark":{"type":"rect","fill":"#ffffff","stroke":"#c5c8d0","cornerRadius":2},"encoding":{"x":{"datum":1.44},"x2":{"datum":6.58},"y":{"datum":110.4},"y2":{"datum":103.6}}},
{"mark":{"type":"point","shape":"M-1,0.5L0,-0.5L1,0.5","stroke":"#131722","strokeWidth":1.3,"size":64,"filled":false,"opacity":1},"encoding":{"x":{"datum":4.01},"y":{"datum":107}}},
{"mark":{"type":"point","shape":"circle","fill":"#ffffff","filled":true,"stroke":"#e6e8ee","strokeWidth":1.5,"size":900,"opacity":1},"encoding":{"x":{"datum":4.11},"y":{"datum":-9.2}}},
{"mark":{"type":"point","shape":"M-1,0.55C-1.25,0.1 -0.8,-0.15 -0.55,-0.1L-0.2,-0.5L0.15,-0.1L0.5,-0.4C0.85,-0.3 0.95,-0.05 0.95,0.1C1.2,0.25 1.05,0.55 0.85,0.55L0.5,0.55L0.1,0.15L-0.3,0.55Z","fill":"#42a5f5","filled":true,"size":361,"opacity":1},"encoding":{"x":{"datum":4.11},"y":{"datum":-9.2}}},
{"mark":{"type":"text","text":"1天","color":"#131722","fontSize":12,"font":"Noto Sans CJK TC"},"encoding":{"x":{"datum":4.73},"y":{"datum":-35.2}}},
{"mark":{"type":"text","text":"5天","color":"#131722","fontSize":12,"font":"Noto Sans CJK TC"},"encoding":{"x":{"datum":11.3},"y":{"datum":-35.2}}},
{"mark":{"type":"text","text":"1月","color":"#131722","fontSize":12,"font":"Noto Sans CJK TC"},"encoding":{"x":{"datum":17.87},"y":{"datum":-35.2}}},
{"mark":{"type":"text","text":"3月","color":"#131722","fontSize":12,"font":"Noto Sans CJK TC"},"encoding":{"x":{"datum":24.24},"y":{"datum":-35.2}}},
{"mark":{"type":"text","text":"6個月","color":"#131722","fontSize":12,"font":"Noto Sans CJK TC"},"encoding":{"x":{"datum":32.04},"y":{"datum":-35.2}}},
{"mark":{"type":"text","text":"YTD","color":"#131722","fontSize":12,"font":"Noto Sans CJK TC"},"encoding":{"x":{"datum":40.26},"y":{"datum":-35.2}}},
{"mark":{"type":"text","text":"1年","color":"#131722","fontSize":12,"font":"Noto Sans CJK TC"},"encoding":{"x":{"datum":47.03},"y":{"datum":-35.2}}},
{"mark":{"type":"text","text":"5年","color":"#131722","fontSize":12,"font":"Noto Sans CJK TC"},"encoding":{"x":{"datum":53.6},"y":{"datum":-35.2}}},
{"mark":{"type":"text","text":"全部","color":"#131722","fontSize":12,"font":"Noto Sans CJK TC"},"encoding":{"x":{"datum":60.79},"y":{"datum":-35.2}}},
{"mark":{"type":"text","text":"%","color":"#2196f3","fontSize":14},"encoding":{"x":{"datum":263.89},"y":{"datum":-35.2}}},
{"mark":{"type":"text","text":"log","color":"#131722","fontSize":12},"encoding":{"x":{"datum":269.64},"y":{"datum":-35.2}}},
{"mark":{"type":"rect","fill":"transparent","stroke":"#2196f3","cornerRadius":4},"encoding":{"x":{"datum":243.15},"x2":{"datum":273.13},"y":{"datum":192},"y2":{"datum":180}}},
{"mark":{"type":"text","text":"全功能圖表","color":"#2196f3","fontSize":14,"font":"Noto Sans CJK TC"},"encoding":{"x":{"datum":260.81},"y":{"datum":186}}},
{"mark":{"type":"point","shape":"M-1,0.1L-0.5,-0.5L0,0L0.5,-0.35L1,-0.8M-0.9,0.8L-0.9,0.5M-0.45,0.8L-0.45,0.1M0,0.8L0,0.45M0.45,0.8L0.45,0.2M0.9,0.8L0.9,0.1","stroke":"#2196f3","strokeWidth":1.6,"filled":false,"size":324,"opacity":1},"encoding":{"x":{"datum":250.34},"y":{"datum":186}}},
{"mark":{"type":"rect","color":"#2196f3","cornerRadius":1},"encoding":{"x":{"datum":254.03},"x2":{"datum":260.2},"y":{"datum":136.4},"y2":{"datum":130.4}}},
{"mark":{"type":"rect","color":"#2196f3","cornerRadius":1},"encoding":{"x":{"datum":260.4},"x2":{"datum":271.49},"y":{"datum":136.4},"y2":{"datum":125.2}}},
{"mark":{"type":"rect","color":"#26c6da","cornerRadius":1},"encoding":{"x":{"datum":254.24},"x2":{"datum":260.2},"y":{"datum":57.2},"y2":{"datum":50.8}}},
{"mark":{"type":"rect","color":"#26c6da","cornerRadius":1},"encoding":{"x":{"datum":260.4},"x2":{"datum":272.31},"y":{"datum":57.2},"y2":{"datum":46.2}}},
{"mark":{"type":"rect","color":"#f77f00","cornerRadius":1},"encoding":{"x":{"datum":254.44},"x2":{"datum":260.2},"y":{"datum":46},"y2":{"datum":39.6}}},
{"mark":{"type":"rect","color":"#f77f00","cornerRadius":1},"encoding":{"x":{"datum":260.4},"x2":{"datum":271.28},"y":{"datum":46},"y2":{"datum":35}}},
{"mark":{"type":"rect","color":"#fbbd2e","cornerRadius":1},"encoding":{"x":{"datum":255.06},"x2":{"datum":260.2},"y":{"datum":34.8},"y2":{"datum":28.4}}},
{"mark":{"type":"rect","color":"#fbbd2e","cornerRadius":1},"encoding":{"x":{"datum":260.4},"x2":{"datum":272.31},"y":{"datum":34.8},"y2":{"datum":23.8}}},
{"mark":{"type":"rule","color":"#ffffff"},"encoding":{"x":{"datum":260.4},"x2":{"datum":261.22},"y":{"datum":133.56}}},
{"mark":{"type":"rule","color":"#23434c"},"encoding":{"x":{"datum":260.4},"x2":{"datum":261.22},"y":{"datum":53.97}}},
{"mark":{"type":"rule","color":"#ffffff"},"encoding":{"x":{"datum":260.4},"x2":{"datum":261.22},"y":{"datum":42.8}}},
{"mark":{"type":"rule","color":"#3f3820"},"encoding":{"x":{"datum":260.4},"x2":{"datum":261.22},"y":{"datum":31.6}}},
{"mark":{"type":"text","text":"XME","color":"#ffffff","fontSize":10.5},"encoding":{"x":{"datum":257.12},"y":{"datum":133.2}}},
{"mark":{"type":"text","text":"IXIC","color":"#23434c","fontSize":10.5},"encoding":{"x":{"datum":257.22},"y":{"datum":54}}},
{"mark":{"type":"text","text":"SPX","color":"#ffffff","fontSize":10.5},"encoding":{"x":{"datum":257.33},"y":{"datum":42.8}}},
{"mark":{"type":"text","text":"DJI","color":"#3f3820","fontSize":10.5},"encoding":{"x":{"datum":257.74},"y":{"datum":31.6}}},
{"mark":{"type":"text","text":"133.56%","align":"left","color":"#ffffff","fontSize":10.5},"encoding":{"x":{"datum":262.25},"y":{"datum":133.2}}},
{"mark":{"type":"text","text":"43.77","align":"left","color":"#ffffff","fontSize":10.5},"encoding":{"x":{"datum":262.25},"y":{"datum":128}}},
{"mark":{"type":"text","text":"53.97%","align":"left","color":"#23434c","fontSize":10.5},"encoding":{"x":{"datum":262.25},"y":{"datum":54}}},
{"mark":{"type":"text","text":"13633.50","align":"left","color":"#23434c","fontSize":10.5},"encoding":{"x":{"datum":262.25},"y":{"datum":48.8}}},
{"mark":{"type":"text","text":"46.21%","align":"left","color":"#ffffff","fontSize":10.5},"encoding":{"x":{"datum":262.25},"y":{"datum":42.8}}},
{"mark":{"type":"text","text":"4164.67","align":"left","color":"#ffffff","fontSize":10.5},"encoding":{"x":{"datum":262.25},"y":{"datum":37.6}}},
{"mark":{"type":"text","text":"44.24%","align":"left","color":"#3f3820","fontSize":10.5},"encoding":{"x":{"datum":262.25},"y":{"datum":31.6}}},
{"mark":{"type":"text","text":"34133.04","align":"left","color":"#3f3820","fontSize":10.5},"encoding":{"x":{"datum":262.25},"y":{"datum":26.4}}}
]}
